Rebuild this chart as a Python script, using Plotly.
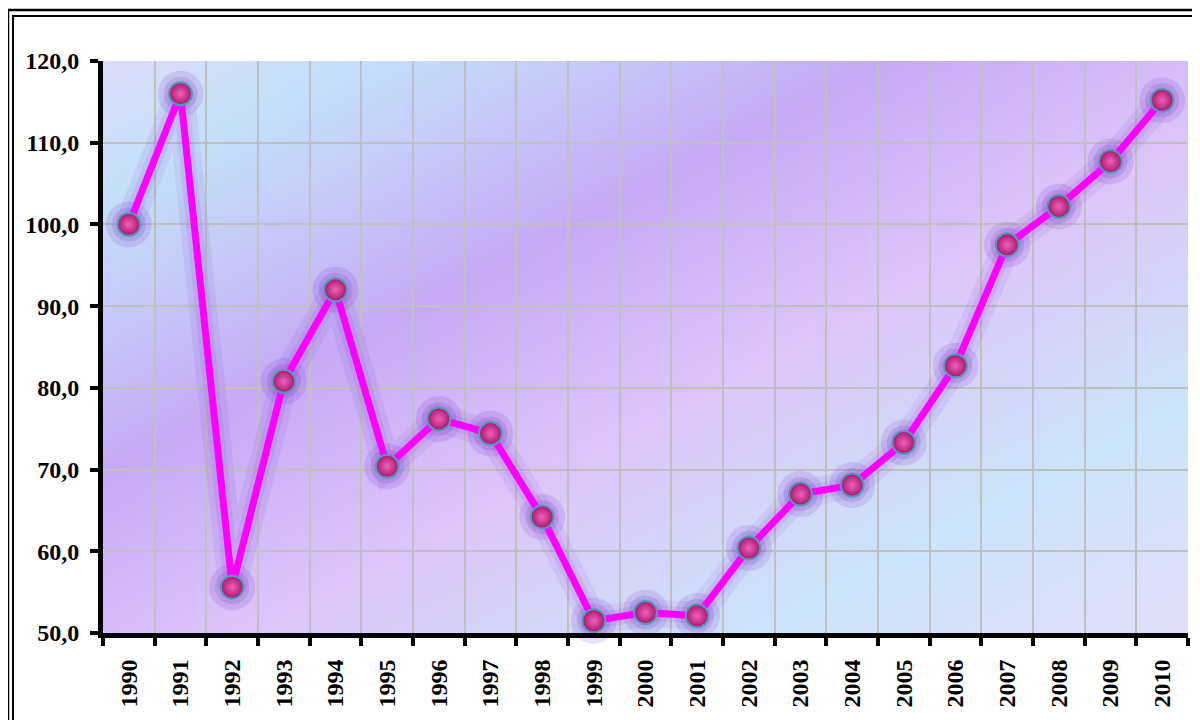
import base64
import plotly.graph_objects as go

years = [str(y) for y in range(1990, 2011)]
values = [100.0, 116.0, 55.6, 80.8, 92.0, 70.4, 76.2, 74.4, 64.2, 51.5, 52.5,
          52.1, 60.4, 67.0, 68.1, 73.3, 82.7, 97.5, 102.2, 107.7, 115.2]
y_tick_vals = [50, 60, 70, 80, 90, 100, 110, 120]
y_tick_text = ["50,0", "60,0", "70,0", "80,0", "90,0", "100,0", "110,0", "120,0"]

X_PAD = "\u00a0\u00a0"  # spacing between labels and axis
Y_PAD = "\u00a0"

# diagonal gradient background for the plot area
svg = """<svg xmlns='http://www.w3.org/2000/svg' width='1085' height='572' preserveAspectRatio='none'>
<defs><linearGradient id='g' x1='0' y1='0' x2='1' y2='1'>
<stop offset='0' stop-color='#dcdcf8'/>
<stop offset='0.12' stop-color='#c4e0fa'/>
<stop offset='0.36' stop-color='#c6aaf6'/>
<stop offset='0.58' stop-color='#dcc6fa'/>
<stop offset='0.80' stop-color='#cce4fa'/>
<stop offset='1' stop-color='#e2def8'/>
</linearGradient></defs>
<rect width='1085' height='572' fill='url(#g)'/></svg>"""
src = "data:image/svg+xml;base64," + base64.b64encode(svg.encode()).decode()

fig = go.Figure()
# soft glow
fig.add_trace(go.Scatter(x=years, y=values, mode="lines+markers",
                         line=dict(color="rgba(120,50,200,0.09)", width=28),
                         marker=dict(size=46, color="rgba(110,40,190,0.14)", line=dict(width=0)),
                         hoverinfo="skip", showlegend=False, cliponaxis=False))
fig.add_trace(go.Scatter(x=years, y=values, mode="lines+markers",
                         line=dict(color="rgba(120,50,200,0.10)", width=16),
                         marker=dict(size=34, color="rgba(110,40,190,0.16)", line=dict(width=0)),
                         hoverinfo="skip", showlegend=False, cliponaxis=False))
fig.add_trace(go.Scatter(x=years, y=values, mode="lines",
                         line=dict(color="#ff00ff", width=7),
                         showlegend=False, cliponaxis=False))
fig.add_trace(go.Scatter(x=years, y=values, mode="markers",
                         marker=dict(size=23, color="#a8146e",
                                     gradient=dict(type="radial", color="#f060b8"),
                                     line=dict(color="#4f9cbc", width=2)),
                         showlegend=False, cliponaxis=False))

fig.add_layout_image(dict(source=src, xref="paper", yref="paper", x=0, y=1,
                          sizex=1, sizey=1, sizing="stretch", layer="below",
                          xanchor="left", yanchor="top"))

FW, FH = 1192, 712
L, R, T, B = 95, 1180, 53, 625
W, H = R - L, B - T
def px(x):
    return (x - L) / W
def py(y):
    return (B - y) / H

shapes = []
for off_x, off_y, w in [(0, 2, 2.5), (5, 8, 2)]:
    shapes.append(dict(type="rect", xref="paper", yref="paper",
                       x0=px(off_x), x1=px(FW + 30), y0=py(off_y), y1=py(FH + 30),
                       line=dict(color="black", width=w), fillcolor="rgba(0,0,0,0)", layer="above"))
fig.update_layout(shapes=shapes)

fig.update_layout(
    width=FW, height=FH,
    margin=dict(l=L, r=FW - R, t=T, b=FH - B, autoexpand=False),
    paper_bgcolor="white", plot_bgcolor="rgba(0,0,0,0)",
    font=dict(family="Liberation Serif", color="black"),
    xaxis=dict(type="category", range=[-0.5, 20.5], tickson="boundaries",
               tickvals=years, ticktext=[y + X_PAD for y in years],
               showgrid=True, gridcolor="#c0c0c0", gridwidth=2,
               showline=True, linecolor="black", linewidth=5,
               ticks="outside", ticklen=8, tickwidth=4, tickcolor="black",
               tickangle=-90, tickfont=dict(size=24, family="Liberation Serif", weight="bold"),
               zeroline=False, automargin=False),
    yaxis=dict(range=[50, 120], tickvals=y_tick_vals, ticktext=[t + Y_PAD for t in y_tick_text],
               showgrid=True, gridcolor="#c0c0c0", gridwidth=2,
               showline=True, linecolor="black", linewidth=5,
               ticks="outside", ticklen=8, tickwidth=4, tickcolor="black",
               tickfont=dict(size=24, family="Liberation Serif", weight="bold"),
               zeroline=False, automargin=False),
)

fig.write_html("out.html")
